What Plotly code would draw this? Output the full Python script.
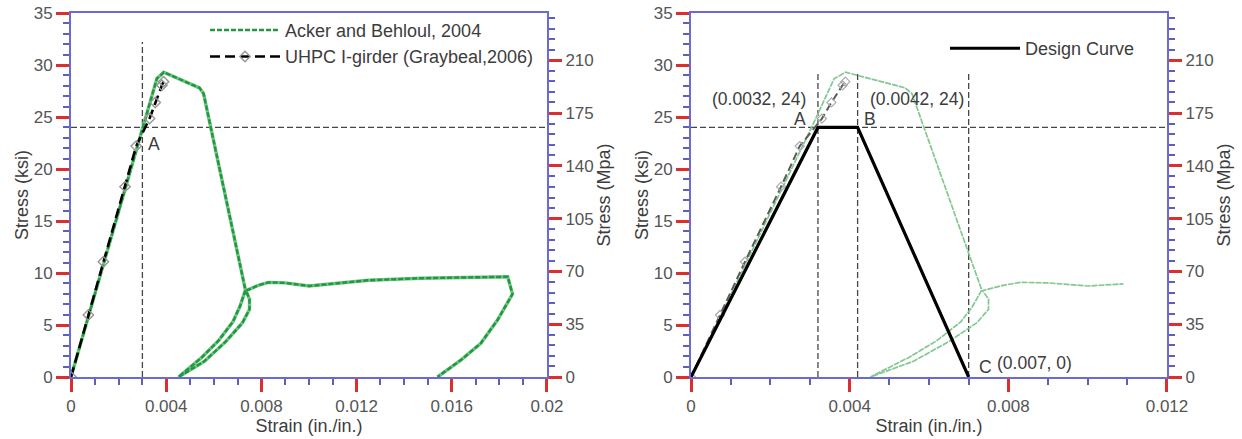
import plotly.graph_objects as go
from plotly.subplots import make_subplots

KSI_TO_MPA = 6.894757

# Acker and Behloul (2004): loading, unload/reload loop, plateau, final unload
acker_strain = [0.0, 0.00304, 0.00361, 0.0039, 0.0054, 0.00557, 0.00733,
                0.0071, 0.0068, 0.0062, 0.0055, 0.00452,
                0.0056, 0.0065, 0.0072, 0.0075, 0.0075, 0.00735,
                0.0079, 0.0083, 0.0090, 0.0100, 0.0109,
                0.0118, 0.0125, 0.0147, 0.0165, 0.01835,
                0.01855, 0.01792, 0.01722, 0.01638, 0.0154]
acker_stress = [0.0, 24.0, 28.7, 29.3, 27.8, 27.25, 8.36,
                6.8, 5.3, 3.5, 1.9, 0.0,
                1.5, 3.4, 5.2, 6.5, 7.5, 8.3,
                8.84, 9.1, 9.05, 8.75, 8.95,
                9.2, 9.3, 9.5, 9.55, 9.64,
                7.97, 5.48, 3.24, 1.63, 0.0]
# last strain of the Acker record shown on the design panel
acker_design_end = 0.0109

# UHPC I-girder test (Graybeal, 2006)
graybeal_strain = [0.0, 0.00073, 0.00136, 0.00227, 0.00274, 0.0033, 0.00354, 0.00382, 0.00389]
graybeal_stress = [0.0, 5.96, 11.08, 18.3, 22.2, 24.85, 26.4, 28.05, 28.4]

# Design curve points A, B, C
design_strain = [0.0, 0.0032, 0.0042, 0.007]
design_stress = [0.0, 24.0, 24.0, 0.0]

# Reference guide lines
design_stress_level = 24.0
left_guide_strain = 0.003
left_guide_top = 32.2
right_guide_strains = [0.0032, 0.0042, 0.007]
right_guide_top = 29.3
left_strain_max = 0.02
right_strain_max = 0.012
stress_max = 35.0

RED = "rgb(222,45,45)"
BLUE = "rgb(105,105,215)"
MINOR = "rgb(95,95,185)"
LABEL = "rgb(85,85,85)"
TITLE = "rgb(60,60,60)"
GUIDE = "rgb(70,70,70)"
FONT = "Liberation Sans, Arial, sans-serif"

fig = make_subplots(rows=1, cols=2,
                    specs=[[{"secondary_y": True}, {"secondary_y": True}]])

guide = dict(color=GUIDE, width=1.3, dash="6px,3px")

# ---- left panel: test data ----
fig.add_trace(go.Scatter(x=[0, left_strain_max], y=[design_stress_level] * 2, mode="lines",
                         line=guide, showlegend=False, hoverinfo="skip"), row=1, col=1)
fig.add_trace(go.Scatter(x=[left_guide_strain] * 2, y=[0, left_guide_top], mode="lines",
                         line=guide, showlegend=False, hoverinfo="skip"), row=1, col=1)
fig.add_trace(go.Scatter(x=acker_strain, y=acker_stress, mode="lines",
                         line=dict(color="rgb(110,200,130)", width=3.4),
                         showlegend=False, hoverinfo="skip"), row=1, col=1)
fig.add_trace(go.Scatter(x=acker_strain, y=acker_stress, mode="lines",
                         name="Acker and Behloul, 2004", legend="legend",
                         line=dict(color="rgb(35,150,65)", width=2.4, dash="5px,2px")),
              row=1, col=1)
fig.add_trace(go.Scatter(x=graybeal_strain, y=graybeal_stress, mode="lines+markers",
                         name="UHPC I-girder (Graybeal,2006)", legend="legend",
                         line=dict(color="black", width=2.6, dash="10px,5px"),
                         marker=dict(symbol="diamond-open", size=8,
                                     color="rgb(150,150,150)", line=dict(width=1.4))),
              row=1, col=1)

# ---- right panel: design curve ----
n_design = acker_strain.index(acker_design_end) + 1
fig.add_trace(go.Scatter(x=[0, right_strain_max], y=[design_stress_level] * 2, mode="lines",
                         line=guide, showlegend=False, hoverinfo="skip"), row=1, col=2)
for s in right_guide_strains:
    fig.add_trace(go.Scatter(x=[s, s], y=[0, right_guide_top], mode="lines",
                             line=guide, showlegend=False, hoverinfo="skip"), row=1, col=2)
fig.add_trace(go.Scatter(x=acker_strain[:n_design], y=acker_stress[:n_design], mode="lines",
                         line=dict(color="rgb(130,200,145)", width=1.7, dash="6px,1px"),
                         showlegend=False), row=1, col=2)
fig.add_trace(go.Scatter(x=graybeal_strain, y=graybeal_stress, mode="lines+markers",
                         line=dict(color="rgb(90,90,90)", width=2, dash="8px,4px"),
                         marker=dict(symbol="diamond-open", size=7,
                                     color="rgb(170,170,170)", line=dict(width=1.2)),
                         showlegend=False), row=1, col=2)
fig.add_trace(go.Scatter(x=design_strain, y=design_stress, mode="lines",
                         name="Design Curve", legend="legend2",
                         line=dict(color="black", width=3.2)), row=1, col=2)

# empty traces so the MPa axes are registered and drawn
for c in (1, 2):
    fig.add_trace(go.Scatter(x=[], y=[], mode="lines", showlegend=False, hoverinfo="skip"),
                  row=1, col=c, secondary_y=True)

# ---- axes ----
def x_axis(xmax, domain):
    return dict(domain=domain, range=[0, xmax], tick0=0, dtick=0.004,
                ticks="outside", ticklen=13, tickwidth=3, tickcolor=RED,
                showline=True, linecolor=BLUE, linewidth=2, mirror=True,
                showgrid=False, zeroline=False, automargin=False,
                minor=dict(dtick=0.001, ticks="outside", ticklen=6, tickwidth=1.5,
                           tickcolor=MINOR, showgrid=False),
                tickfont=dict(family=FONT, size=17, color=LABEL),
                title=dict(text="Strain (in./in.)", standoff=4,
                           font=dict(family=FONT, size=18, color=TITLE)))

def ksi_axis():
    return dict(range=[0, stress_max], tick0=0, dtick=5,
                ticks="outside", ticklen=13, tickwidth=3, tickcolor=RED,
                showline=True, linecolor=BLUE, linewidth=2,
                showgrid=False, zeroline=False, automargin=False,
                minor=dict(dtick=1, ticks="outside", ticklen=6, tickwidth=1.5,
                           tickcolor=MINOR, showgrid=False),
                tickfont=dict(family=FONT, size=17, color=LABEL),
                title=dict(text="Stress (ksi)", standoff=0,
                           font=dict(family=FONT, size=18, color=TITLE)))

def mpa_axis():
    return dict(range=[0, stress_max * KSI_TO_MPA], tick0=0, dtick=35,
                ticks="outside", ticklen=13, tickwidth=3, tickcolor=RED,
                showline=True, linecolor=BLUE, linewidth=2, side="right",
                showgrid=False, zeroline=False, automargin=False,
                minor=dict(dtick=7, ticks="outside", ticklen=6, tickwidth=1.5,
                           tickcolor=MINOR, showgrid=False),
                tickfont=dict(family=FONT, size=17, color=LABEL),
                title=dict(text="Stress (Mpa)", standoff=4,
                           font=dict(family=FONT, size=18, color=TITLE)))

fig.update_layout(
    xaxis=x_axis(left_strain_max, [0.0, 0.4343]),
    xaxis2=x_axis(right_strain_max, [0.5657, 1.0]),
    yaxis=ksi_axis(), yaxis2=mpa_axis(),
    yaxis3=ksi_axis(), yaxis4=mpa_axis(),
)

# ---- labels ----
ann_font = dict(family=FONT, size=17.5, color=TITLE)
labels = [
    ("x", "y", 0.00347, 22.45, "A"),
    ("x2", "y3", 0.00275, 24.8, "A"),
    ("x2", "y3", 0.00452, 24.8, "B"),
    ("x2", "y3", 0.00172, 26.7, "(0.0032, 24)"),
    ("x2", "y3", 0.0057, 26.7, "(0.0042, 24)"),
    ("x2", "y3", 0.00743, 0.99, "C"),
    ("x2", "y3", 0.00866, 1.3, "(0.007, 0)"),
]
for xr, yr, xv, yv, txt in labels:
    fig.add_annotation(xref=xr, yref=yr, x=xv, y=yv, text=txt, showarrow=False,
                       font=ann_font, xanchor="center", yanchor="middle")

legend_common = dict(font=dict(family=FONT, size=18, color=TITLE),
                     bgcolor="rgba(0,0,0,0)", borderwidth=0, itemwidth=70,
                     xanchor="left", yanchor="top", tracegroupgap=4)
fig.update_layout(
    legend=dict(x=(205 - 71) / 1096, y=1.0032, **legend_common),
    legend2=dict(x=(945 - 71) / 1096, y=0.9531, **legend_common),
    width=1242, height=439,
    margin=dict(l=71, r=75, t=12.5, b=62, autoexpand=False),
    paper_bgcolor="white", plot_bgcolor="white",
    font=dict(family=FONT),
)

fig.write_html("out.html")
